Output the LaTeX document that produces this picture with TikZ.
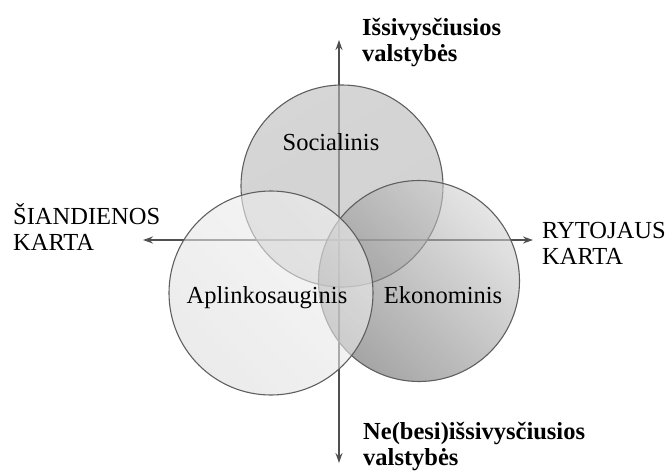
\documentclass[tikz,border=0pt]{standalone}
\usepackage{fontspec}
\setmainfont{Liberation Serif}
\usetikzlibrary{arrows.meta}
\definecolor{axisgray}{RGB}{80,80,80}
\definecolor{ringgray}{RGB}{95,95,95}
\definecolor{socfill}{RGB}{180,180,180}
\definecolor{ekolight}{RGB}{212,212,212}
\definecolor{ekodark}{RGB}{105,105,105}
\definecolor{apllight}{RGB}{240,240,240}
\definecolor{apldark}{RGB}{222,222,222}
\begin{document}
\begin{tikzpicture}[x=1pt,y=-1pt,
  axis/.style={draw=axisgray, line width=1.6pt, {Stealth[length=10pt,width=7pt]}-{Stealth[length=10pt,width=7pt]}},
  venn/.style={circle, draw=ringgray, line width=1.1pt, inner sep=0pt, shade},
  lbl/.style={font=\fontsize{24.5}{26}\selectfont, inner sep=0pt, align=left},
  blbl/.style={lbl, font=\fontsize{24.5}{25.5}\selectfont\bfseries}]
\useasboundingbox (0,0) rectangle (672,471);
% axes
\coordinate (top) at (339,40);
\coordinate (bot) at (339,463);
\coordinate (lft) at (143,240);
\coordinate (rgt) at (533,240);
\draw[axis] (bot) -- (top);
\draw[axis] (lft) -- (rgt);
% circles
\node[venn, fill opacity=0.6, minimum size=202pt, top color=socfill!92!white, bottom color=socfill, shading angle=30] (soc) at (342,186) {};
\node[venn, fill opacity=0.6, minimum size=201pt, left color=ekodark, right color=ekolight, shading angle=135] (eko) at (419,281) {};
\node[venn, fill opacity=0.6, minimum size=204pt, left color=apldark, right color=apllight, shading angle=135] (apl) at (271,293) {};
% circle texts
\node[lbl, anchor=base] (tsoc) at (331,150) {Socialinis};
\node[lbl, anchor=base] (tapl) at (267,303) {Aplinkosauginis};
\node[lbl, anchor=base] (teko) at (443,303) {Ekonominis};
% axis labels
\node[blbl, anchor=base west] (ltop) at (362,61) {Išsivysčiusios\\valstybės};
\node[blbl, anchor=base west] (lbot) at (363,465) {Ne(besi)išsivysčiusios\\valstybės};
\node[lbl, anchor=base west] (llft) at (13,250) {ŠIANDIENOS\\KARTA};
\node[lbl, anchor=base west] (lrgt) at (542,264) {RYTOJAUS\\KARTA};
\end{tikzpicture}
\end{document}
